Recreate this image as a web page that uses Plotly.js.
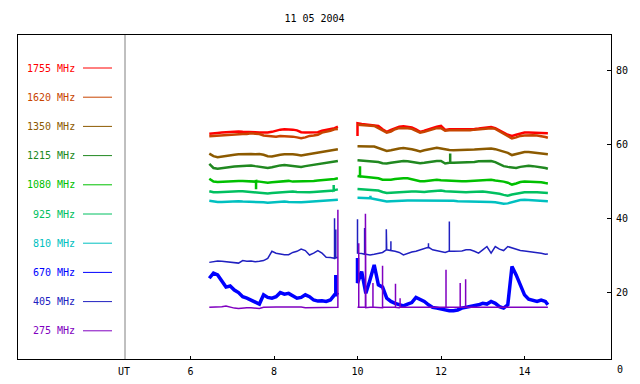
<!DOCTYPE html>
<html><head><meta charset="utf-8">
<script src="https://cdn.plot.ly/plotly-3.0.1.min.js"></script>
<style>html,body{margin:0;padding:0;background:#fff}#chart{width:640px;height:384px}</style>
</head><body><div id="chart"></div>
<script>
const chartTitle = '11 05 2004';
const freqLabels = ['1755 MHz','1620 MHz','1350 MHz','1215 MHz','1080 MHz','925 MHz','810 MHz','670 MHz','405 MHz','275 MHz'];
const seriesColors = ['#ff0000','#c84400','#8c5a00','#208820','#00c000','#00c060','#00c0c0','#0000ff','#2020c0','#8000c0'];
const xTicks = [6, 8, 10, 12, 14];
const yTicks = [20, 40, 60, 80];

const timeSeg1 = [6.45,6.55,6.65,6.75,6.85,6.95,7.05,7.15,7.25,7.35,7.45,7.55,7.65,7.75,7.85,7.95,8.05,8.15,8.25,8.35,8.45,8.55,8.65,8.75,8.85,8.95,9.05,9.15,9.25,9.35,9.45,9.53];
const timeSeg2 = [10.0,10.1,10.2,10.3,10.4,10.5,10.6,10.7,10.8,10.9,11.0,11.1,11.2,11.3,11.4,11.5,11.6,11.7,11.8,11.9,12.0,12.1,12.2,12.3,12.4,12.5,12.6,12.7,12.8,12.9,13.0,13.1,13.2,13.3,13.4,13.5,13.6,13.7,13.8,13.9,14.0,14.1,14.2,14.3,14.4,14.5,14.56];

const v1755a = [63.0,63.0,63.2,63.3,63.4,63.5,63.5,63.6,63.5,63.5,63.6,63.4,63.3,63.2,63.3,63.5,63.9,64.1,64.2,64.2,64.1,63.9,63.4,63.3,63.3,63.4,63.4,63.8,64.0,64.2,64.5,64.9];
const v1755b = [65.8,65.6,65.5,65.4,65.3,65.1,64.2,63.5,64.0,64.5,64.9,65.0,64.9,64.7,64.2,63.5,63.8,64.2,64.4,64.9,65.1,64.0,64.2,64.2,64.2,64.2,64.1,64.2,64.3,64.4,64.5,64.7,64.8,64.5,64.0,63.3,62.7,62.4,62.7,63.1,63.3,63.3,63.3,63.3,63.3,63.2,63.1];
const v1620a = [62.3,62.4,62.4,62.6,62.7,62.8,62.9,62.9,62.9,62.9,63.1,63.0,62.9,62.5,62.4,62.2,62.2,62.4,62.4,62.4,62.2,62.0,61.8,62.0,62.4,62.5,62.7,63.3,63.5,63.8,64.2,64.3];
const v1620b = [65.4,65.3,65.3,65.2,65.1,64.5,63.8,63.3,63.6,64.2,64.5,64.6,64.5,64.3,63.8,63.3,63.5,63.9,64.2,64.5,64.5,63.8,63.9,63.9,63.9,63.9,63.8,63.9,64.1,64.2,64.3,64.4,64.5,64.3,63.7,62.9,62.4,61.7,62.0,62.4,62.5,62.6,62.6,62.5,62.4,62.1,61.9];
const v1350a = [57.6,56.9,56.6,56.8,57.1,57.2,57.3,57.4,57.5,57.4,57.5,57.4,57.5,57.3,56.9,56.8,57.1,57.3,57.4,57.5,57.4,57.3,57.1,57.3,57.5,57.6,58.0,58.2,58.3,58.5,58.7,58.8];
const v1350b = [59.6,59.5,59.5,59.5,59.5,59.1,58.5,58.3,58.5,58.8,59.0,59.1,59.0,58.8,58.5,58.2,58.5,58.7,59.0,59.2,59.0,58.7,58.6,58.5,58.5,58.5,58.5,58.6,58.7,58.8,58.9,59.0,59.0,58.8,58.5,58.3,57.8,57.2,57.5,57.8,58.0,58.0,57.9,57.8,57.6,57.5,57.4];
const v1215a = [54.8,53.7,53.5,53.7,53.8,54.0,54.1,54.2,54.3,54.4,54.4,54.2,54.0,53.8,53.7,53.9,54.2,54.4,54.5,54.4,54.2,54.0,54.0,54.2,54.4,54.6,54.7,54.9,55.1,55.3,55.5,55.6];
const v1215b = [55.8,55.7,55.7,55.6,55.6,55.3,55.0,54.9,55.1,55.3,55.5,55.6,55.5,55.3,55.1,55.0,55.1,55.3,55.5,55.6,55.6,54.9,55.1,55.1,55.1,55.1,55.1,55.2,55.3,55.5,55.6,55.6,55.6,55.3,54.7,54.2,54.0,53.8,53.7,54.0,54.2,54.3,54.2,54.1,53.9,53.7,53.5];
const v1080a = [50.8,50.0,49.9,50.0,50.0,50.1,50.1,50.2,50.2,50.1,50.1,50.0,50.0,49.8,49.7,49.8,49.9,50.0,50.2,50.2,50.0,50.0,50.0,50.1,50.2,50.2,50.3,50.4,50.4,50.5,50.7,50.9];
const v1080b = [51.5,51.4,51.3,51.2,51.1,50.9,50.5,50.4,50.5,50.7,50.9,50.9,50.9,50.6,50.3,50.1,50.1,50.3,50.4,50.5,50.4,50.3,50.2,50.2,50.1,50.1,50.1,50.2,50.3,50.4,50.5,50.6,50.5,50.3,50.2,50.0,49.7,49.2,49.5,49.9,50.0,50.0,50.0,49.9,49.8,49.6,49.5];
const v925a = [47.4,47.1,47.1,47.2,47.3,47.3,47.4,47.4,47.4,47.3,47.2,47.1,46.9,46.9,46.8,46.9,47.0,47.1,47.2,47.3,47.3,47.2,47.1,47.1,47.1,47.2,47.3,47.3,47.4,47.5,47.7,47.9];
const v925b = [48.0,47.9,47.9,47.9,47.8,47.6,47.2,46.9,47.0,47.1,47.2,47.3,47.3,47.3,47.3,47.2,47.2,47.3,47.4,47.5,47.6,47.4,47.3,47.2,47.1,47.1,47.1,47.2,47.3,47.3,47.3,47.2,47.1,46.9,46.7,46.4,46.2,46.5,46.8,46.9,47.1,47.2,47.1,47.1,47.0,46.9,46.9];
const v810a = [44.8,44.6,44.5,44.5,44.6,44.7,44.7,44.7,44.6,44.6,44.5,44.4,44.4,44.4,44.3,44.4,44.5,44.6,44.6,44.5,44.4,44.4,44.4,44.5,44.6,44.6,44.7,44.8,44.9,45.0,45.0,45.1];
const v810b = [45.6,45.5,45.5,45.5,45.3,45.1,44.8,44.6,44.7,44.8,44.8,44.9,44.9,44.9,44.9,44.8,44.8,44.9,45.0,45.0,45.0,44.9,44.9,44.8,44.7,44.7,44.7,44.7,44.7,44.7,44.7,44.6,44.5,44.4,44.2,44.0,44.1,44.4,44.8,45.0,45.1,45.0,45.0,44.9,44.8,44.7,44.7];
const v670a = [23.8,25.2,24.7,22.9,21.4,21.7,20.6,19.9,18.8,18.4,17.9,17.5,16.8,19.3,18.6,18.4,18.8,19.9,19.5,19.7,19.0,18.4,18.6,19.3,18.8,17.9,17.6,17.7,17.5,17.9,19.3,19.9];
const v670b = [22.5,25.6,19.7,23.4,27.4,22.0,21.4,18.4,17.5,17.0,16.6,16.3,16.8,17.2,18.6,18.1,17.5,16.6,15.9,15.7,15.4,15.2,15.0,15.0,15.2,15.7,15.9,16.1,16.3,16.6,17.0,16.8,17.5,17.0,16.1,15.7,16.6,27.0,24.7,22.0,19.3,18.1,17.7,17.5,17.9,17.5,16.6];
const v405a = [28.1,28.3,28.5,28.4,28.3,28.3,28.1,27.9,28.6,28.4,28.5,28.3,28.4,28.6,29.2,31.1,30.6,30.3,30.2,30.2,30.8,31.1,31.7,31.3,30.1,30.6,31.3,30.6,29.5,29.4,29.2,29.5];
const v405b = [30.6,30.5,30.3,30.1,30.3,30.5,30.8,31.5,31.3,31.1,30.8,30.1,30.6,30.9,31.1,31.5,31.9,32.2,31.5,31.2,31.0,30.8,31.2,31.1,31.1,31.2,31.5,31.5,31.1,30.6,31.5,32.4,30.6,32.4,31.7,31.3,32.4,32.0,31.5,31.3,31.2,31.1,30.9,30.8,30.6,30.3,30.4];
const v275a = [15.9,15.9,15.9,16.1,16.3,15.9,15.7,15.6,15.8,15.8,15.8,15.7,15.6,15.9,16.0,16.0,16.0,16.0,16.0,16.0,16.1,16.1,16.0,15.8,15.8,15.9,15.9,15.8,15.8,15.8,15.8,15.9];
const v275b = [15.9,15.9,15.8,15.9,15.9,15.9,15.8,15.9,15.9,15.9,15.8,15.9,15.9,15.9,15.9,15.8,15.8,15.9,15.9,15.9,15.9,15.9,15.9,15.8,15.9,15.9,15.9,15.9,15.9,15.8,15.8,15.7,15.7,15.8,15.9,15.9,15.9,15.9,15.9,15.9,15.9,15.9,15.9,15.9,15.8,15.9,15.9];

// short bursts: time, level before/after, peak level
const spikeT1755 = [10.0], spikeB1755 = [65.8], spikeP1755 = [62.4];
const spikeT1215 = [12.22], spikeB1215 = [55.1], spikeP1215 = [57.6];
const spikeT1080 = [7.57, 10.06], spikeB1080 = [50.1, 51.4], spikeP1080 = [47.9, 54.2];
const spikeT925 = [9.43], spikeB925 = [47.6], spikeP925 = [49.1];
const spikeT810 = [10.31], spikeB810 = [45.5], spikeP810 = [46.2];
const spikeT670 = [9.48, 10.0], spikeB670 = [19.3, 22.5], spikeP670 = [24.7, 29.3];
const spikeT405 = [9.45, 9.48, 10.0, 10.17, 10.69, 10.80, 11.70, 12.20], spikeB405 = [29.2, 29.3, 30.6, 30.3, 31.5, 31.3, 32.2, 31.2], spikeP405 = [40.1, 37.0, 39.8, 37.4, 37.1, 33.8, 33.3, 39.2];
const spikeT275 = [9.53, 10.03, 10.19, 10.37, 10.60, 10.91, 11.02, 12.12, 12.46, 12.59], spikeB275 = [15.9,15.9,15.9,15.9,15.9,15.9,15.9,15.9,15.9,15.9], spikeP275 = [42.4, 33.3, 41.3, 22.5, 27.2, 22.3, 18.4, 26.1, 22.5, 23.5];

const seriesData = [
  [v1755a, v1755b, spikeT1755, spikeB1755, spikeP1755],
  [v1620a, v1620b, [], [], []],
  [v1350a, v1350b, [], [], []],
  [v1215a, v1215b, spikeT1215, spikeB1215, spikeP1215],
  [v1080a, v1080b, spikeT1080, spikeB1080, spikeP1080],
  [v925a, v925b, spikeT925, spikeB925, spikeP925],
  [v810a, v810b, spikeT810, spikeB810, spikeP810],
  [v670a, v670b, spikeT670, spikeB670, spikeP670],
  [v405a, v405b, spikeT405, spikeB405, spikeP405],
  [v275a, v275b, spikeT275, spikeB275, spikeP275]
];
const lineWidths = [2.5, 2.5, 2.5, 2.5, 2.5, 2.5, 2.5, 3.5, 1.5, 1.5];

function buildSeries(va, vb, sT, sB, sP) {
  const gapT = (timeSeg1[timeSeg1.length-1] + timeSeg2[0]) / 2;
  let p1 = timeSeg1.map((t,i) => ({t, v: va[i], k: 0}));
  let p2 = timeSeg2.map((t,i) => ({t, v: vb[i], k: 0}));
  sT.forEach((t,i) => {
    const tgt = t < gapT ? p1 : p2;
    tgt.push({t, v: sB[i], k: 1}, {t, v: sP[i], k: 2}, {t, v: sB[i], k: 3});
  });
  const cmp = (a,b) => (a.t - b.t) || (a.k - b.k);
  p1.sort(cmp); p2.sort(cmp);
  const all = p1.concat([{t: gapT, v: null}], p2);
  return {x: all.map(p => p.t), y: all.map(p => p.v)};
}

const traces = seriesData.map((s, i) => {
  const d = buildSeries(s[0], s[1], s[2], s[3], s[4]);
  return {x: d.x, y: d.y, type: 'scatter', mode: 'lines', connectgaps: false,
    line: {color: seriesColors[i], width: lineWidths[i]}, hoverinfo: 'skip', showlegend: false};
});

// pixel geometry of the frame
const PL = 18, PR = 611, PT = 35, PB = 359;
const px = x => (x - PL) / (PR - PL);
const py = y => (PB - y) / (PB - PT);
const mono = 'DejaVu Sans Mono, monospace';

const shapes = [{type: 'line', xref: 'paper', yref: 'paper', x0: px(125), x1: px(125), y0: 0, y1: 1, line: {color: '#808080', width: 1}}];
const annotations = [];
freqLabels.forEach((lab, i) => {
  const yc = 68 + i * 29.2;
  shapes.push({type: 'line', xref: 'paper', yref: 'paper', x0: px(83), x1: px(112), y0: py(yc), y1: py(yc), line: {color: seriesColors[i], width: 1}});
  annotations.push({xref: 'paper', yref: 'paper', x: px(77), y: py(yc), xanchor: 'right', yanchor: 'middle', text: lab, showarrow: false, font: {family: mono, size: 10, color: seriesColors[i]}});
});
annotations.push({xref: 'paper', yref: 'paper', x: px(124), y: py(371), xanchor: 'center', yanchor: 'middle', text: 'UT', showarrow: false, font: {family: mono, size: 10, color: '#000'}});
annotations.push({xref: 'paper', yref: 'paper', x: px(615), y: py(369), xanchor: 'left', yanchor: 'middle', text: '0', showarrow: false, font: {family: mono, size: 10, color: '#000'}});

const layout = {
  width: 640, height: 384,
  margin: {l: PL, r: 640 - PR, t: PT, b: 384 - PB, pad: 0},
  paper_bgcolor: '#fff', plot_bgcolor: '#fff',
  title: {text: chartTitle, x: 0.5, xref: 'paper', y: 1 - 18/384, yref: 'container', yanchor: 'middle', font: {family: mono, size: 10, color: '#000'}},
  xaxis: {range: [1.868, 16.072], tickvals: xTicks, ticktext: xTicks.map(String), ticks: 'inside', ticklen: 3, tickcolor: '#000',
    ticklabelstandoff: 3,
    showline: true, mirror: true, linecolor: '#000', linewidth: 1, showgrid: false, zeroline: false,
    tickfont: {family: mono, size: 10, color: '#000'}},
  yaxis: {range: [1.9, 89.76], side: 'right', tickvals: yTicks, ticktext: yTicks.map(String), ticks: 'inside', ticklen: 4, tickcolor: '#000',
    ticklabelstandoff: 2,
    showline: true, mirror: true, linecolor: '#000', linewidth: 1, showgrid: false, zeroline: false,
    tickfont: {family: mono, size: 10, color: '#000'}},
  shapes, annotations, showlegend: false
};
Plotly.newPlot('chart', traces, layout, {staticPlot: true, displayModeBar: false});
</script></body></html>
